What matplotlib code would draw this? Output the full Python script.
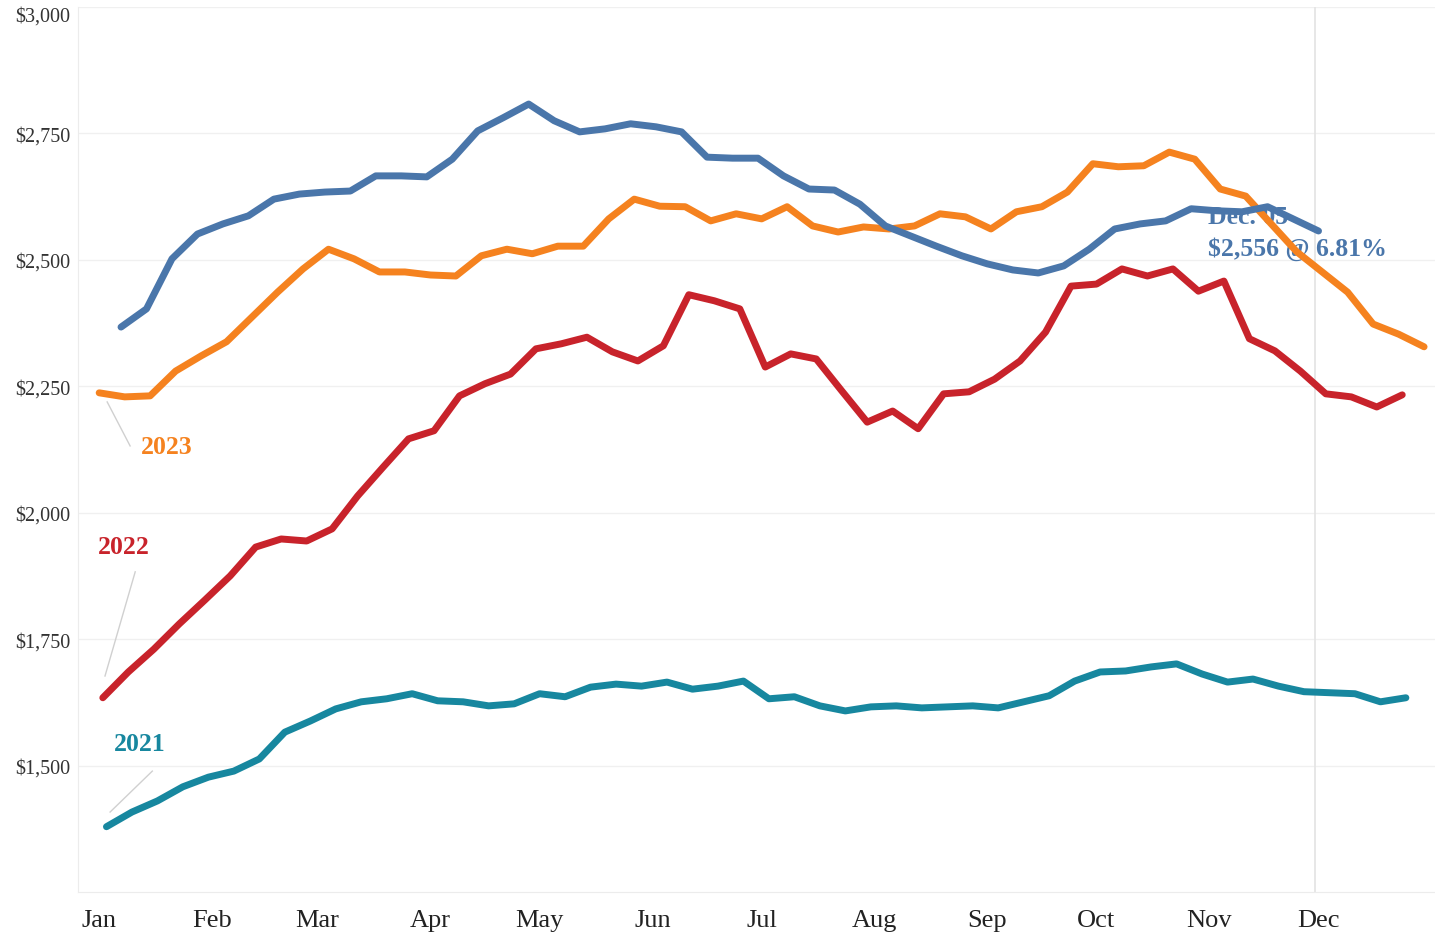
"""
Weekly mortgage payment by year (day-of-year axis)
"""

import numpy as np
import matplotlib
matplotlib.use("Agg")
import matplotlib.pyplot as plt

# weekly payment readings, one list per year
pay_2021 = [1379, 1408, 1430, 1458, 1477, 1489, 1513, 1566, 1588, 1612, 1626, 1632, 1642,
            1628, 1626, 1618, 1622, 1642, 1636, 1655, 1661, 1657, 1665, 1651, 1657, 1667,
            1632, 1636, 1618, 1608, 1616, 1618, 1614, 1616, 1618, 1614, 1626, 1638, 1667,
            1685, 1687, 1695, 1701, 1681, 1665, 1671, 1657, 1646, 1644, 1642, 1626, 1634]
pay_2022 = [1634, 1685, 1730, 1780, 1827, 1875, 1932, 1948, 1944, 1968, 2033, 2090, 2146,
            2162, 2231, 2255, 2274, 2324, 2334, 2347, 2318, 2300, 2330, 2431, 2419, 2403,
            2288, 2314, 2304, 2241, 2179, 2201, 2166, 2235, 2239, 2264, 2300, 2357, 2448,
            2452, 2482, 2468, 2482, 2438, 2458, 2344, 2320, 2280, 2235, 2229, 2209, 2233]
pay_2023 = [2237, 2229, 2231, 2280, 2310, 2338, 2387, 2436, 2482, 2521, 2502, 2476, 2476,
            2470, 2468, 2508, 2521, 2512, 2527, 2527, 2581, 2620, 2606, 2605, 2577, 2591,
            2581, 2605, 2567, 2555, 2565, 2561, 2567, 2591, 2585, 2561, 2595, 2605, 2634,
            2690, 2684, 2686, 2713, 2699, 2640, 2626, 2571, 2516, 2476, 2436, 2373, 2353,
            2328]
pay_2024 = [2367, 2403, 2502, 2551, 2571, 2587, 2620, 2630, 2634, 2636, 2666, 2666, 2664,
            2699, 2755, 2781, 2808, 2775, 2753, 2759, 2769, 2763, 2753, 2703, 2701, 2701,
            2666, 2640, 2638, 2610, 2567, 2547, 2527, 2508, 2492, 2480, 2474, 2488, 2521,
            2561, 2571, 2577, 2601, 2597, 2595, 2605, 2581, 2557]

# day of year of the first weekly reading
start_day = {"2021": 2, "2022": 1, "2023": 0, "2024": 6}

months = ["Jan", "Feb", "Mar", "Apr", "May", "Jun", "Jul", "Aug", "Sep", "Oct", "Nov", "Dec"]
month_start = [0, 31, 60, 91, 121, 152, 182, 213, 244, 274, 305, 335]
y_ticks = [1500, 1750, 2000, 2250, 2500, 2750, 3000]

latest_day = 334
latest_label = "Dec. 05"
latest_value = "$2,556 @ 6.81%"

colors = {
    "2021": "#17879f",
    "2022": "#c8232b",
    "2023": "#f5821f",
    "2024": "#4a76aa",
}

plt.rcParams["font.family"] = ["Liberation Serif", "DejaVu Serif"]

fig = plt.figure(figsize=(14.35, 9.37), dpi=100)
ax = fig.add_axes([0.0544, 0.047, 0.9456, 0.9445])


def weeks(key, values):
    return np.arange(len(values)) * 7 + start_day[key]


series = [("2021", pay_2021, 3), ("2022", pay_2022, 4), ("2023", pay_2023, 5), ("2024", pay_2024, 6)]
for key, vals, z in series:
    ax.plot(weeks(key, vals), vals, color=colors[key], lw=5,
            solid_capstyle="round", solid_joinstyle="round", zorder=z)

# reference line at the latest week
ax.axvline(latest_day, color="#e3e3e3", lw=1.2, zorder=1)

ax.set_xlim(-5.8, 367)
ax.set_ylim(1250, 3000)

ax.set_yticks(y_ticks)
ax.set_yticklabels([f"${v:,}" for v in y_ticks], fontsize=14.5, color="#333333")
ax.set_xticks(month_start)
ax.set_xticklabels(months, fontsize=19, color="#222222")
ax.tick_params(axis="both", length=0)
ax.tick_params(axis="y", pad=5.5)
ax.tick_params(axis="x", pad=12.5)
top_label = ax.get_yticklabels()[-1]
top_label.set_verticalalignment("top")
top_label.set_y(2994)

ax.grid(axis="y", color="#f0f0f0", lw=1, zorder=0)
ax.set_axisbelow(True)
for side in ["top", "right"]:
    ax.spines[side].set_visible(False)
for side in ["left", "bottom"]:
    ax.spines[side].set_color("#ececec")

# year labels with thin leader lines
labels = [
    ("2023", (18.7, 2130), (2.2, 2219), (8.5, 2132)),
    ("2022", (6.9, 1934), (9.9, 1883), (1.6, 1677)),
    ("2021", (11.2, 1543), (14.6, 1489), (3.0, 1408)),
]
for key, pos, p0, p1 in labels:
    ax.text(pos[0], pos[1], key, color=colors[key], fontsize=18.5, fontweight="bold",
            ha="center", va="center", zorder=7)
    ax.plot([p0[0], p1[0]], [p0[1], p1[1]], color="#d0d0d0", lw=1, zorder=2)

ax.text(304.6, 2585, latest_label, color=colors["2024"], fontsize=18.5, fontweight="bold",
        ha="left", va="center", zorder=2)
ax.text(304.6, 2523, latest_value, color=colors["2024"], fontsize=18.5, fontweight="bold",
        ha="left", va="center", zorder=2)

fig.savefig("out.png", dpi=100)
